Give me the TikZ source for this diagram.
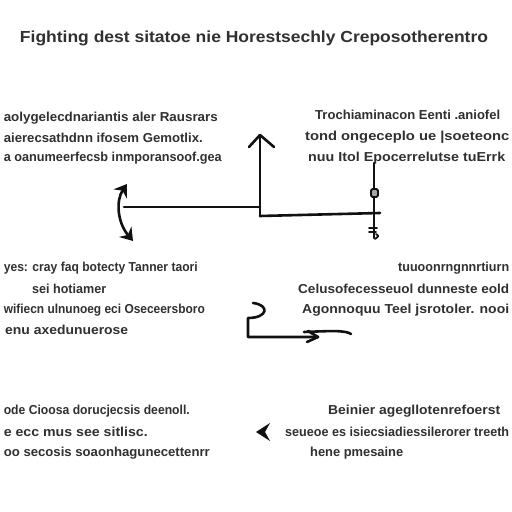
\documentclass[tikz,border=0pt]{standalone}
\usepackage{graphicx}
\usepackage{fontspec}
\setmainfont{Liberation Sans}
\usetikzlibrary{arrows.meta}
\definecolor{txt}{HTML}{303030}
\definecolor{ink}{HTML}{111111}
\newcommand\fitw[2]{\resizebox{#1pt}{\height}{#2}}
\tikzset{
  body/.style={font=\fontsize{13}{15}\bfseries\selectfont, text=txt, inner sep=0pt},
  ttl/.style={font=\fontsize{16}{18}\bfseries\selectfont, text=txt, inner sep=0pt},
  stroke/.style={draw=ink, line width=2.6pt, line cap=round, line join=round},
  thin/.style={draw=ink, line width=1.8pt, line cap=round, line join=round},
  bighead/.tip={Stealth[length=12pt,width=16pt,inset=4pt]},
}
\begin{document}
\begin{tikzpicture}[x=1pt,y=1pt]
\useasboundingbox[fill=white] (0,0) rectangle (512,512);
% title
\node[ttl] (title) at (254,474) {\fitw{468}{Fighting dest sitatoe nie Horestsechly Creposotherentro}};
% upper left block
\node[body,anchor=east] (ul1) at (218,394) {\fitw{214}{aolygelecdnariantis aler Rausrars}};
\node[body,anchor=east] (ul2) at (203,374) {\fitw{199}{aierecsathdnn ifosem Gemotlix.}};
\node[body,anchor=east] (ul3) at (222,354) {\fitw{218}{a oanumeerfecsb inmporansoof.gea}};
% upper right block
\node[body,anchor=west] (ur1) at (315,397) {\fitw{185}{Trochiaminacon Eenti .aniofel}};
\node[body,anchor=west] (ur2) at (305,375) {\fitw{204}{tond ongeceplo ue |soeteonc}};
\node[body,anchor=west] (ur3) at (308,354) {\fitw{197}{nuu Itol Epocerrelutse tuErrk}};
% middle left block
\node[body,anchor=east] (ml1) at (198,244) {\fitw{194}{yes: cray faq botecty Tanner taori}};
\node[body,anchor=west] (ml2) at (32,223) {\fitw{74}{sei hotiamer}};
\node[body,anchor=east] (ml3) at (205,202) {\fitw{201}{wifiecn ulnunoeg eci Oseceersboro}};
\node[body,anchor=west] (ml4) at (5,182) {\fitw{123}{enu axedunuerose}};
% middle right block
\node[body,anchor=west] (mr1) at (398,244) {\fitw{111}{tuuoonrngnnrtiurn}};
\node[body,anchor=west] (mr2) at (298,223) {\fitw{211}{Celusofecesseuol dunneste eold}};
\node[body,anchor=west] (mr3) at (302,202) {\fitw{207}{Agonnoquu Teel jsrotoler. nooi}};
% bottom left block
\node[body,anchor=east] (bl1) at (190,101) {\fitw{186}{ode Cioosa dorucjecsis deenoll.}};
\node[body,anchor=east] (bl2) at (148,80) {\fitw{144}{e ecc mus see sitlisc.}};
\node[body,anchor=east] (bl3) at (210,59) {\fitw{206}{oo secosis soaonhagunecettenrr}};
% bottom right block
\node[body,anchor=west] (br1) at (328,101) {\fitw{172}{Beinier agegllotenrefoerst}};
\node[body,anchor=west] (br2) at (285,80) {\fitw{224}{seueoe es isiecsiadiessilerorer treeth}};
\node[body,anchor=west] (br3) at (310,59) {\fitw{93}{hene pmesaine}};
% --- upper diagram
\coordinate (corner) at (260,296);
\coordinate (uptip) at (260,377);
\coordinate (lft) at (124,305);
\coordinate (rgt) at (380,299);
\coordinate (vtop) at (374,349);
\coordinate (vbot) at (374,274);
\draw[stroke] (corner) -- (uptip);
\draw[stroke] (249,365) -- (uptip) -- (274,365);
\draw[stroke] (lft) -- (260,305);
\draw[stroke] (corner) -- (rgt);
\draw[stroke] (vtop) -- (vbot);
\draw[thin, fill=gray!70, rounded corners=1.5pt] (371,315) rectangle (378,323);
\draw[thin] (369,284) -- (377,284) (369,280) -- (376,280);
\draw[thin] (376,278) .. controls (379,276) .. (375,273);
% curved double arrow
\coordinate (ca1) at (127,328);
\coordinate (ca2) at (133,271);
\draw[stroke, bighead-bighead] (ca1) .. controls (116,312) and (117,290) .. (ca2);
% --- middle Z arrow
\coordinate (z0) at (253,209);
\coordinate (z1) at (248,194);
\coordinate (z2) at (248,175);
\coordinate (z3) at (318,175);
\draw[stroke] (z0) .. controls (270,207) and (268,194) .. (z1) -- (z2) -- (z3);
\draw[stroke] (308,181) -- (z3) -- (307,170);
\draw[stroke] (304,180) .. controls (330,181) and (345,182) .. (351,178);
% --- bottom arrowhead
\coordinate (bt) at (256,80);
\fill[ink] (bt) -- (270,89) -- (265,80) -- (270,71) -- cycle;
\end{tikzpicture}
\end{document}
